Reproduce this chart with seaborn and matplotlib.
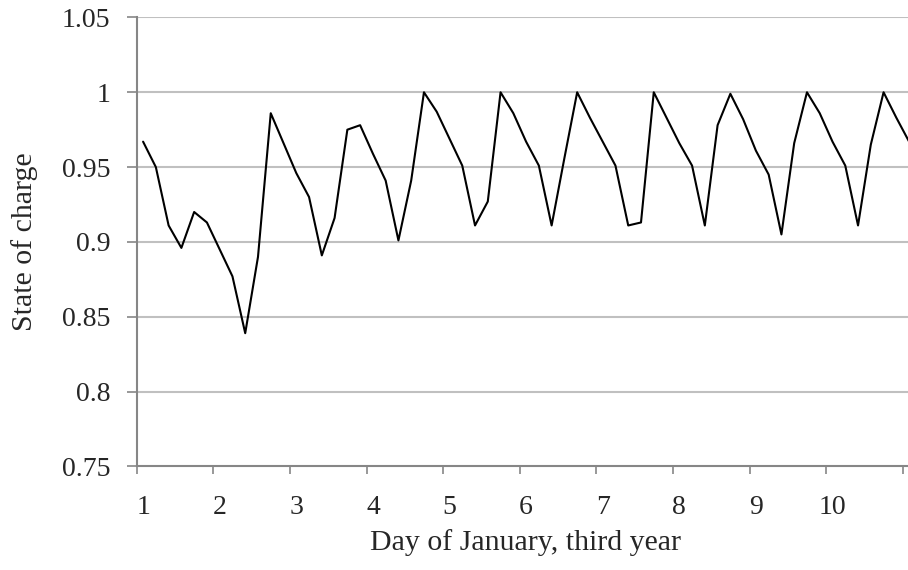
import matplotlib
matplotlib.use("Agg")
import matplotlib.pyplot as plt
import seaborn as sns
import numpy as np
import pandas as pd

# State of charge, sampled every 4 hours (6 samples per day) from day 1
soc = [0.967, 0.950, 0.911, 0.896, 0.920, 0.913,
       0.895, 0.877, 0.839, 0.890, 0.986, 0.966,
       0.946, 0.930, 0.891, 0.916, 0.975, 0.978,
       0.959, 0.941, 0.901, 0.941, 1.000, 0.987,
       0.969, 0.951, 0.911, 0.927, 1.000, 0.986,
       0.967, 0.951, 0.911, 0.956, 1.000, 0.983,
       0.967, 0.951, 0.911, 0.913, 1.000, 0.983,
       0.966, 0.951, 0.911, 0.978, 0.999, 0.982,
       0.961, 0.945, 0.905, 0.966, 1.000, 0.986,
       0.967, 0.951, 0.911, 0.965, 1.000, 0.983,
       0.967]
samples_per_day = 6
day_labels = [1, 2, 3, 4, 5, 6, 7, 8, 9, 10]
y_ticks = [0.75, 0.8, 0.85, 0.9, 0.95, 1.0, 1.05]
y_tick_labels = ["0.75", "0.8", "0.85", "0.9", "0.95", "1", "1.05"]

df = pd.DataFrame({"day": 1 + np.arange(len(soc)) / samples_per_day, "soc": soc})

sns.set_style("white")
plt.rcParams["font.family"] = ["Liberation Serif", "DejaVu Serif"]

W, H = 908, 570
fig = plt.figure(figsize=(W / 100, H / 100), dpi=100)
ax_left, ax_right = 136.7, 908.0
ax_top, ax_bot = 17.45, 466.4
ax_w, ax_h = ax_right - ax_left, ax_bot - ax_top
ax = fig.add_axes([ax_left / W, 1 - ax_bot / H, ax_w / W, ax_h / H])

sns.lineplot(data=df, x="day", y="soc", ax=ax, color="black", linewidth=1.5, zorder=3)

step = 1 / samples_per_day
px_per_cat = 12.767
x_left = 1 - step / 2
x_right = x_left + ax_w / px_per_cat * step
ax.set_xlim(x_left, x_right)
ax.set_ylim(0.75, 1.05)

grid_color = "#c0c0c0"
spine_color = "#868686"
for y in y_ticks[1:]:
    ax.axhline(y, color=grid_color, linewidth=1.5, zorder=1)

ax.set_yticks(y_ticks)
ax.set_yticklabels(y_tick_labels)
ax.tick_params(axis="y", direction="out", length=7, width=1.2, color=spine_color,
               labelsize=20, pad=12, left=True)

# tick marks between categories, labels at category centers
ax.set_xticks([d - step / 2 for d in range(1, 12)])
ax.set_xticklabels([])
ax.tick_params(axis="x", which="major", direction="out", length=5.5, width=1.2,
               color=spine_color, bottom=True)
ax.set_xticks(day_labels, minor=True)
ax.set_xticklabels([str(d) for d in day_labels], minor=True)
ax.tick_params(axis="x", which="minor", length=0, labelsize=20, pad=20.5)

for s in ["top", "right"]:
    ax.spines[s].set_visible(False)
for s in ["left", "bottom"]:
    ax.spines[s].set_color(spine_color)
    ax.spines[s].set_linewidth(1.5)

ax.set_xlabel("Day of January, third year", fontsize=21.5)
ax.xaxis.set_label_coords((526 - ax_left) / ax_w, (ax_bot - 529.5) / ax_h)
ax.set_ylabel("State of charge", fontsize=21.5)
ax.yaxis.set_label_coords((38.5 - ax_left) / ax_w, 0.5)
ax.grid(False)

fig.savefig("out.png", dpi=100)
